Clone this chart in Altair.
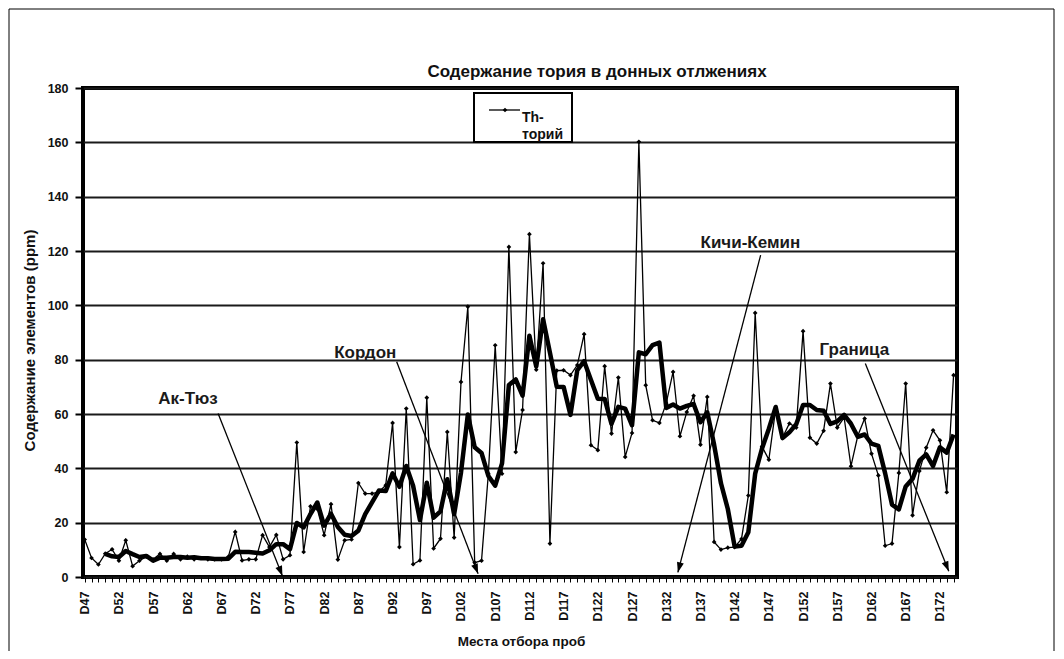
import json
import altair as alt
import pandas as pd

# ---------------- data ----------------
categories = [f"D{n}" for n in range(47, 175)]
thorium = [13.8, 7.0, 4.6, 8.6, 10.2, 6.0, 13.5, 4.0, 6.0, 7.5,
           6.5, 8.5, 6.0, 8.5, 6.5, 7.5, 6.5, 7.0, 6.5, 6.5,
           6.5, 7.5, 16.6, 6.1, 6.5, 6.5, 15.4, 11.0, 15.5, 6.5,
           8.0, 49.5, 9.2, 26.0, 25.0, 15.4, 26.8, 6.4, 13.5, 13.8,
           34.6, 30.7, 30.7, 31.3, 33.8, 56.7, 11.0, 62.0, 4.7, 6.1,
           66.0, 10.5, 14.1, 53.4, 14.5, 71.8, 99.5, 5.3, 6.0, 38.0,
           85.3, 38.0, 121.5, 46.0, 61.5, 126.2, 76.3, 115.5, 12.3, 76.0,
           76.1, 74.3, 78.0, 89.4, 48.5, 46.7, 77.6, 52.8, 73.4, 44.2,
           53.0, 160.2, 70.6, 57.7, 56.7, 64.0, 75.5, 51.8, 60.7, 66.7,
           48.7, 66.3, 12.9, 10.1, 10.8, 11.0, 14.0, 30.0, 97.2, 48.0,
           43.2, 62.0, 51.3, 56.5, 55.0, 90.5, 51.3, 49.1, 53.8, 71.2,
           55.0, 58.7, 40.8, 52.0, 58.3, 45.4, 37.4, 11.5, 12.3, 38.3,
           71.2, 22.7, 39.0, 47.6, 54.0, 50.3, 31.2, 74.3]
ma_period = 4  # moving-average trendline period

y_ticks = [0, 20, 40, 60, 80, 100, 120, 140, 160, 180]
chart_title = "Содержание тория в донных отлжениях"
y_title = "Содержание элементов (ppm)"
x_title = "Места отбора проб"
legend_text = "Th-\nторий"

# annotations (positions in category-index / value units)
ann_labels = ["Ак-Тюз", "Кордон", "Кичи-Кемин", "Граница"]
ann_text_x = [15.1, 41.0, 97.3, 112.5]
ann_text_y = [65.7, 82.4, 122.9, 83.5]
ann_from_x = [19.5, 45.6, 98.8, 114.1]
ann_from_y = [60.2, 79.2, 118.5, 78.6]
ann_tip_x = [28.9, 57.5, 86.7, 126.3]
ann_tip_y = [0.4, 1.2, 1.7, 2.1]
ann_angle = [338.4, 338.9, 14.7, 338.1]

# ---------------- tables ----------------
df = pd.DataFrame({"idx": list(range(len(categories))),
                   "cat": categories, "value": thorium})
ann = pd.DataFrame({"label": ann_labels, "tx": ann_text_x, "ty": ann_text_y,
                    "sx": ann_from_x, "sy": ann_from_y,
                    "ex": ann_tip_x, "ey": ann_tip_y, "ang": ann_angle})
one = pd.DataFrame({"k": [0]})

FONT = "Liberation Sans"
INK = "#111111"
W, H = 874, 489

x_scale = alt.Scale(domain=[-0.25, 127.5], nice=False, zero=False)
y_scale = alt.Scale(domain=[0, 180], nice=False)

label_expr = ("datum.value % 5 == 0 ? " + json.dumps(categories) +
              "[datum.value] : ''")

x_axis = alt.Axis(values=list(range(len(categories))), labelExpr=label_expr,
                  labelAngle=270, labelAlign="right", labelBaseline="middle",
                  labelFont=FONT, labelFontSize=12.5, labelFontWeight="bold",
                  labelColor=INK, labelPadding=9, labelOverlap=False,
                  labelFlush=False, tickSize=5, tickColor="black", tickWidth=1,
                  domain=False, grid=False, title=x_title, titleFont=FONT,
                  titleFontSize=13.5, titleFontWeight="bold", titleColor=INK,
                  titleX=438, titleY=64, titleAlign="center",
                  titleBaseline="middle")
y_axis = alt.Axis(values=y_ticks, grid=True, gridColor="#1a1a1a", gridWidth=2,
                  domain=False, tickSize=8, tickColor="black", tickWidth=2,
                  labelFont=FONT, labelFontSize=12.5, labelFontWeight="bold",
                  labelColor=INK, labelPadding=7, title=y_title,
                  titleFont=FONT, titleFontSize=15, titleFontWeight="bold",
                  titleColor=INK, titleAngle=270, titleX=-54, titleY=252,
                  titleAlign="center", titleBaseline="middle")


def X(field):
    return alt.X(field, scale=x_scale, axis=x_axis, title=x_title)


def Y(field):
    return alt.Y(field, scale=y_scale, axis=y_axis, title=y_title)


base = alt.Chart(df)

thin = base.mark_line(color="black", strokeWidth=1.3,
                      point=alt.OverlayMarkDef(shape="diamond", size=22,
                                               filled=True, color="black")
                      ).encode(x=X("idx:Q"), y=Y("value:Q"))

thick = base.transform_window(
    ma="mean(value)", frame=[-(ma_period - 1), 0], sort=[alt.SortField("idx")]
).transform_filter(
    f"datum.idx >= {ma_period - 1}"
).mark_line(color="black", strokeWidth=4.5, strokeJoin="round").encode(
    x=X("idx:Q"), y=Y("ma:Q"))

ann_base = alt.Chart(ann)
ann_text = ann_base.mark_text(font=FONT, fontSize=17, fontWeight="bold",
                              color="#1a1a1a", align="center",
                              baseline="middle").encode(
    x=X("tx:Q"), y=Y("ty:Q"), text="label:N")
ann_line = ann_base.mark_rule(color="black", strokeWidth=1.3).encode(
    x=X("sx:Q"), y=Y("sy:Q"), x2="ex:Q", y2="ey:Q")
ann_head = ann_base.mark_point(shape="M0,0 L-0.7,-2 L0.7,-2 Z", size=100,
                               filled=True, color="black", opacity=1).encode(
    x=X("ex:Q"), y=Y("ey:Q"), angle=alt.Angle("ang:Q", scale=None))

# title and decorations
title_mark = alt.Chart(one).mark_text(font=FONT, fontSize=17, fontWeight="bold",
                                      color=INK, align="center",
                                      baseline="middle").encode(
    x=alt.value(514), y=alt.value(-16), text=alt.value(chart_title))

legend_box = alt.Chart(one).mark_rect(fill="white", stroke="black",
                                      strokeWidth=2).encode(
    x=alt.value(391), x2=alt.value(489), y=alt.value(5), y2=alt.value(54))
legend_line = alt.Chart(one).mark_rule(color="black", strokeWidth=1.3).encode(
    x=alt.value(406), x2=alt.value(437), y=alt.value(22))
legend_dot = alt.Chart(one).mark_point(shape="diamond", size=22, filled=True,
                                       color="black", opacity=1).encode(
    x=alt.value(422), y=alt.value(22))
legend_lbl = alt.Chart(one).mark_text(font=FONT, fontSize=14, fontWeight="bold",
                                      color=INK, align="left", baseline="middle",
                                      lineBreak="\n", lineHeight=17).encode(
    x=alt.value(439), y=alt.value(30), text=alt.value(legend_text))

outer = alt.Chart(one).mark_rect(fillOpacity=0, stroke="black",
                                 strokeWidth=1).encode(
    x=alt.value(-74), x2=alt.value(971), y=alt.value(-79), y2=alt.value(700))

chart = alt.layer(
    thin, thick, ann_line, ann_head, ann_text, title_mark,
    legend_box, legend_line, legend_dot, legend_lbl, outer
).properties(
    width=W, height=H,
    autosize=alt.AutoSizeParams(type="none"),
    padding={"left": 75, "top": 80, "right": 99, "bottom": 74},
    background="white",
).configure_view(stroke="black", strokeWidth=4)

chart.save("out.html", embed_options={"renderer": "svg", "actions": False})
